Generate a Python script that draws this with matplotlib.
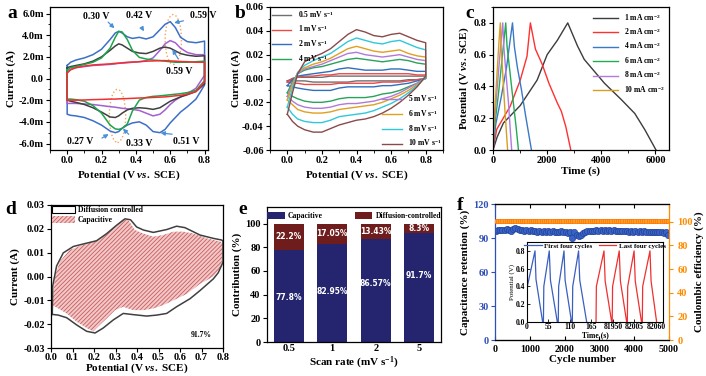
import numpy as np
import matplotlib
matplotlib.use('Agg')
import matplotlib.pyplot as plt
from matplotlib.patches import Ellipse, Patch
from matplotlib.ticker import AutoMinorLocator, FormatStrFormatter

plt.rcParams['font.family'] = ['Liberation Serif', 'DejaVu Serif']
plt.rcParams['font.weight'] = 'bold'
plt.rcParams['axes.labelweight'] = 'bold'
plt.rcParams['axes.unicode_minus'] = False
plt.rcParams['mathtext.fontset'] = 'custom'
plt.rcParams['mathtext.rm'] = 'Liberation Serif:bold'
plt.rcParams['mathtext.it'] = 'Liberation Serif:italic:bold'
plt.rcParams['mathtext.bf'] = 'Liberation Serif:bold'
plt.rcParams['hatch.linewidth'] = 0.6

# ---------------- data ----------------
# (a) CV curves, current in mA, upper / lower branch on the same potential grid
a_v = [0.0, 0.02, 0.05, 0.1, 0.15, 0.2, 0.25, 0.28, 0.3, 0.32, 0.35, 0.38,
       0.42, 0.46, 0.5, 0.54, 0.57, 0.6, 0.63, 0.66, 0.7, 0.75, 0.8]
a_blue_up = [1.2, 1.5, 1.7, 1.9, 2.2, 2.7, 3.6, 4.2, 4.35, 4.2, 3.85, 3.7,
             3.8, 3.65, 3.85, 4.5, 5.0, 5.25, 4.7, 3.8, 3.4, 3.3, 3.45]
a_blue_lo = [-3.3, -3.4, -3.45, -3.6, -3.9, -4.3, -4.85, -5.0, -4.9, -4.6, -4.3, -4.1,
             -4.0, -4.3, -4.9, -5.0, -4.7, -4.1, -3.6, -3.1, -2.6, -1.9, -0.6]
a_purple_up = [0.6, 0.85, 1.0, 1.1, 1.2, 1.25, 1.3, 1.35, 1.4, 1.42, 1.45, 1.5,
               1.55, 1.65, 1.9, 2.6, 3.2, 3.5, 3.3, 2.8, 2.4, 2.2, 2.2]
a_purple_lo = [-2.3, -2.3, -2.3, -2.35, -2.4, -2.5, -2.6, -2.65, -2.7, -2.75, -2.8, -2.85,
               -2.95, -3.2, -3.45, -3.3, -2.9, -2.4, -2.0, -1.7, -1.4, -0.9, 0.3]
a_black_up = [1.0, 1.1, 1.2, 1.35, 1.6, 2.0, 2.6, 3.0, 3.2, 3.1, 2.8, 2.5,
              2.35, 2.3, 2.5, 2.8, 2.9, 2.8, 2.55, 2.3, 2.15, 2.05, 2.1]
a_black_lo = [-2.0, -2.1, -2.2, -2.4, -2.7, -3.1, -3.55, -3.6, -3.45, -3.2, -2.9, -2.75,
              -2.7, -2.75, -2.85, -2.7, -2.4, -2.1, -1.9, -1.7, -1.5, -1.2, -0.5]
a_green_up = [0.8, 1.0, 1.1, 1.3, 1.5, 1.9, 2.8, 3.8, 4.35, 4.3, 3.6, 2.6,
              1.95, 1.8, 1.7, 1.65, 1.6, 1.55, 1.5, 1.5, 1.5, 1.55, 1.6]
a_green_lo = [-1.9, -1.9, -1.95, -2.1, -2.5, -3.2, -4.3, -4.65, -4.7, -4.6, -4.2, -3.0,
              -2.0, -1.75, -1.65, -1.6, -1.55, -1.5, -1.45, -1.4, -1.3, -1.1, -0.2]
a_red_up = [0.5, 0.8, 1.0, 1.15, 1.25, 1.3, 1.35, 1.4, 1.42, 1.45, 1.5, 1.52,
            1.55, 1.6, 1.62, 1.65, 1.65, 1.62, 1.6, 1.57, 1.55, 1.5, 1.5]
a_red_lo = [-2.0, -2.0, -2.0, -1.98, -1.95, -1.93, -1.9, -1.9, -1.88, -1.87, -1.85, -1.83,
            -1.8, -1.78, -1.75, -1.72, -1.7, -1.65, -1.6, -1.55, -1.45, -1.2, -0.3]

# (b) CV at different scan rates, current in A
b_v = [0.0, 0.03, 0.06, 0.1, 0.15, 0.2, 0.25, 0.3, 0.35, 0.4, 0.45, 0.5,
       0.55, 0.6, 0.65, 0.7, 0.75, 0.8]
b_labels = ['0.5 mV s$^{-1}$', '1 mV s$^{-1}$', '2 mV s$^{-1}$', '4 mV s$^{-1}$',
            '5 mV s$^{-1}$', '6 mV s$^{-1}$', '8 mV s$^{-1}$', '10 mV s$^{-1}$']
b_up = [
    [-0.002, 0.000, 0.001, 0.001, 0.001, 0.001, 0.002, 0.002, 0.002, 0.002, 0.002, 0.002, 0.002, 0.002, 0.002, 0.002, 0.002, 0.002],
    [-0.003, 0.000, 0.001, 0.002, 0.002, 0.003, 0.003, 0.004, 0.004, 0.004, 0.004, 0.004, 0.004, 0.004, 0.004, 0.004, 0.003, 0.003],
    [-0.006, -0.001, 0.002, 0.003, 0.004, 0.005, 0.006, 0.008, 0.009, 0.008, 0.007, 0.007, 0.007, 0.008, 0.008, 0.007, 0.006, 0.006],
    [-0.012, -0.003, 0.004, 0.007, 0.009, 0.010, 0.012, 0.014, 0.016, 0.017, 0.016, 0.015, 0.014, 0.015, 0.016, 0.015, 0.013, 0.012],
    [-0.015, -0.004, 0.004, 0.008, 0.010, 0.012, 0.015, 0.018, 0.021, 0.022, 0.020, 0.019, 0.018, 0.019, 0.020, 0.018, 0.016, 0.015],
    [-0.018, -0.005, 0.005, 0.009, 0.012, 0.014, 0.017, 0.021, 0.025, 0.027, 0.025, 0.023, 0.022, 0.023, 0.024, 0.021, 0.019, 0.018],
    [-0.024, -0.008, 0.005, 0.011, 0.015, 0.018, 0.021, 0.026, 0.031, 0.034, 0.032, 0.030, 0.029, 0.031, 0.032, 0.029, 0.026, 0.024],
    [-0.030, -0.012, 0.004, 0.014, 0.018, 0.021, 0.025, 0.031, 0.037, 0.041, 0.039, 0.036, 0.035, 0.037, 0.038, 0.035, 0.032, 0.030],
]
b_lo = [
    [-0.002, -0.002, -0.002, -0.002, -0.003, -0.003, -0.003, -0.003, -0.003, -0.002, -0.002, -0.002, -0.002, -0.002, -0.002, -0.001, -0.001, 0.000],
    [-0.003, -0.004, -0.004, -0.005, -0.005, -0.005, -0.005, -0.004, -0.004, -0.004, -0.004, -0.004, -0.003, -0.003, -0.003, -0.002, -0.001, 0.000],
    [-0.006, -0.007, -0.008, -0.009, -0.010, -0.010, -0.010, -0.008, -0.007, -0.007, -0.007, -0.007, -0.006, -0.006, -0.005, -0.004, -0.002, 0.000],
    [-0.012, -0.015, -0.017, -0.019, -0.020, -0.020, -0.019, -0.017, -0.016, -0.016, -0.016, -0.015, -0.013, -0.012, -0.010, -0.007, -0.004, 0.001],
    [-0.015, -0.019, -0.022, -0.024, -0.025, -0.025, -0.024, -0.022, -0.021, -0.021, -0.020, -0.019, -0.017, -0.015, -0.012, -0.008, -0.004, 0.001],
    [-0.018, -0.022, -0.026, -0.028, -0.029, -0.029, -0.028, -0.026, -0.025, -0.024, -0.023, -0.022, -0.020, -0.017, -0.014, -0.010, -0.005, 0.001],
    [-0.024, -0.030, -0.034, -0.036, -0.037, -0.037, -0.035, -0.032, -0.031, -0.030, -0.029, -0.027, -0.024, -0.021, -0.017, -0.012, -0.006, 0.001],
    [-0.030, -0.036, -0.040, -0.043, -0.045, -0.045, -0.042, -0.039, -0.037, -0.035, -0.034, -0.032, -0.029, -0.025, -0.020, -0.014, -0.007, 0.002],
]

# (c) GCD curves
c_labels = ['1 mA cm$^{-2}$', '2 mA cm$^{-2}$', '4 mA cm$^{-2}$',
            '6 mA cm$^{-2}$', '8 mA cm$^{-2}$', '10 mA cm$^{-2}$']
c_t = [
    [0, 150, 385, 1007, 1630, 2000, 2375, 2760, 3120, 3370, 4117, 4740, 5236, 5610, 6020],
    [0, 137, 634, 1007, 1256, 1380, 1567, 1816, 2065, 2375, 2525, 2687, 2873],
    [0, 100, 300, 500, 640, 720, 790, 900, 1050, 1200, 1300, 1420],
    [0, 60, 200, 350, 470, 520, 620, 750, 850, 940],
    [0, 40, 150, 280, 360, 400, 480, 570, 640, 690],
    [0, 30, 120, 220, 270, 300, 370, 440, 500, 540],
]
c_v = [
    [0, 0.08, 0.17, 0.28, 0.44, 0.6, 0.69, 0.8, 0.655, 0.57, 0.42, 0.317, 0.23, 0.127, 0],
    [0, 0.13, 0.275, 0.44, 0.59, 0.8, 0.635, 0.54, 0.42, 0.296, 0.243, 0.148, 0],
    [0, 0.16, 0.33, 0.52, 0.7, 0.8, 0.65, 0.52, 0.38, 0.22, 0.12, 0],
    [0, 0.15, 0.35, 0.6, 0.8, 0.65, 0.5, 0.3, 0.15, 0],
    [0, 0.15, 0.38, 0.65, 0.8, 0.65, 0.48, 0.3, 0.12, 0],
    [0, 0.15, 0.4, 0.68, 0.8, 0.65, 0.45, 0.25, 0.1, 0],
]

# (d) total (outline) and capacitive (hatched) CV at 5 mV/s
d_tot_v = [0.006, 0.008, 0.026, 0.057, 0.104, 0.166, 0.212, 0.259, 0.305, 0.344, 0.37, 0.398,
           0.43, 0.476, 0.538, 0.584, 0.623, 0.693, 0.755, 0.794, 0.8,
           0.8, 0.778, 0.755, 0.693, 0.647, 0.584, 0.538, 0.491, 0.445, 0.383, 0.336,
           0.29, 0.243, 0.205, 0.166, 0.119, 0.073, 0.034, 0.006]
d_tot_i = [-0.0159, -0.004, 0.0044, 0.0099, 0.0126, 0.014, 0.015, 0.018, 0.0215, 0.0242, 0.0238, 0.0208,
           0.0195, 0.0185, 0.0197, 0.0211, 0.0205, 0.0174, 0.016, 0.0153, 0.0148,
           0.006, 0.0016, -0.001, -0.0059, -0.0093, -0.0127, -0.0155, -0.0162, -0.0166, -0.016, -0.0155,
           -0.0182, -0.0216, -0.0237, -0.023, -0.0203, -0.0173, -0.0162, -0.0159]
d_cap_v = [0.006, 0.019, 0.042, 0.088, 0.15, 0.212, 0.26, 0.305, 0.336, 0.36, 0.39, 0.43,
           0.476, 0.522, 0.569, 0.616, 0.662, 0.724, 0.786, 0.798,
           0.794, 0.755, 0.693, 0.631, 0.569, 0.522, 0.476, 0.43, 0.383, 0.336, 0.298,
           0.26, 0.212, 0.197, 0.166, 0.119, 0.073, 0.034, 0.006]
d_cap_i = [-0.012, 0.0003, 0.0064, 0.0112, 0.0133, 0.015, 0.018, 0.0215, 0.024, 0.0236, 0.0195, 0.018,
           0.0167, 0.0174, 0.0188, 0.0188, 0.018, 0.016, 0.0147, 0.014,
           0.0044, 0.0, -0.0031, -0.0073, -0.01, -0.012, -0.0134, -0.0141, -0.0141, -0.0127, -0.0141,
           -0.0175, -0.0216, -0.023, -0.0216, -0.0189, -0.0155, -0.0134, -0.012]

# (e) contributions
e_rates = ['0.5', '1', '2', '5']
e_cap = [77.8, 82.95, 86.57, 91.7]
e_dif = [22.2, 17.05, 13.43, 8.3]
e_cap_txt = ['77.8%', '82.95%', '86.57%', '91.7%']
e_dif_txt = ['22.2%', '17.05%', '13.43%', '8.3%']

# (f) cycling
f_retention = [96.5, 97.2, 96.8, 97.5, 96.9, 97.8, 97.1, 96.4, 98.0, 98.9,
               97.6, 96.8, 97.3, 96.5, 97.0, 96.2, 96.8, 95.9, 96.5, 95.7,
               96.3, 95.5, 96.1, 95.4, 95.9, 95.2, 95.8, 95.0, 95.6, 95.3,
               95.8, 95.1, 95.5, 94.8, 95.2, 90.3, 95.6, 92.5, 91.8, 93.0,
               94.5, 95.6, 96.2, 95.8, 96.5, 96.1, 96.8, 96.3, 96.9, 96.4,
               97.0, 96.5, 96.8, 96.2, 96.7, 96.0, 96.5, 95.9, 96.4, 95.8,
               96.3, 95.7, 96.2, 95.6, 96.0, 95.5, 95.9, 95.4, 95.8, 95.3,
               95.7, 95.2, 95.6, 95.0, 95.4, 94.9, 95.2, 94.8, 95.0, 93.0]
f_ce = [100.6, 100.4, 100.7, 100.5, 100.6, 100.3, 100.5, 100.7, 100.4, 100.6,
        100.5, 100.6, 100.4, 100.7, 100.5, 100.6, 100.3, 100.5, 100.6, 100.4,
        100.7, 100.5, 100.6, 100.4, 100.5, 100.6, 100.3, 100.5, 100.7, 100.4,
        100.6, 100.5, 100.4, 100.6, 100.5, 100.7, 100.4, 100.6, 100.5, 100.3,
        100.5, 100.6, 100.4, 100.7, 100.5, 100.6, 100.4, 100.5, 100.6, 100.3,
        100.5, 100.7, 100.4, 100.6, 100.5, 100.6, 100.4, 100.5, 100.7, 100.4,
        100.6, 100.5, 100.3, 100.6, 100.5, 100.7, 100.4, 100.6, 100.5, 100.4,
        100.6, 100.5, 100.7, 100.4, 100.6, 100.5, 100.3, 100.6, 100.5, 100.4]
f_cycles = np.linspace(25, 4975, len(f_retention))

# inset: composite time axis (first cycles, then last cycles)
ins_first_t = [0, 0.8, 20.5, 23, 40, 42, 43, 57, 60, 77.6, 80, 81, 94.7, 97.5, 114,
               116, 117, 132, 135, 152.7]
ins_first_v = [0, 0.40, 0.8, 0.48, 0, 0, 0.40, 0.8, 0.47, 0, 0, 0.40, 0.8, 0.47, 0,
               0, 0.40, 0.8, 0.47, 0]
ins_last_t = [176.6, 177.5, 197, 200, 216.7, 218, 219, 236, 239, 255, 256.7, 257.7, 274, 277, 293,
              295, 296, 314.7, 317.5, 331.7]
ins_last_v = [0, 0.40, 0.8, 0.46, 0, 0, 0.40, 0.8, 0.46, 0, 0, 0.40, 0.8, 0.46, 0,
              0, 0.40, 0.8, 0.46, 0]
ins_tick_pos = [0, 55, 110, 165, 220, 275, 330]
ins_tick_lab = ['0', '55', '110', '165', '81950', '82005', '82060']

# ---------------- figure ----------------
W, H = 706, 376
fig = plt.figure(figsize=(W / 100, H / 100), dpi=100)


def box(l, t, r, b):
    return [l / W, 1 - b / H, (r - l) / W, (b - t) / H]


TS = 7.5   # tick labels
LS = 8     # axis labels
GS = 5.5   # legends


def style(ax, minor=True):
    ax.tick_params(direction='out', length=3, width=0.8, labelsize=TS, pad=1.5)
    ax.tick_params(which='minor', direction='out', length=1.8, width=0.6)
    for s in ax.spines.values():
        s.set_linewidth(0.9)
    if minor:
        ax.xaxis.set_minor_locator(AutoMinorLocator(2))
        ax.yaxis.set_minor_locator(AutoMinorLocator(2))


pot_label = 'Potential (V $\\mathit{vs.}$ SCE)'

# ---- a ----
ax = fig.add_axes(box(50, 7, 208, 150))
loop_v = a_v + a_v[::-1] + [a_v[0]]
for up, lo, col in [(a_blue_up, a_blue_lo, '#3d6fc8'), (a_purple_up, a_purple_lo, '#a45fd0'),
                    (a_black_up, a_black_lo, '#404040'), (a_green_up, a_green_lo, '#1fa34a'),
                    (a_red_up, a_red_lo, '#f03030')]:
    ax.plot(loop_v, up + lo[::-1] + [up[0]], color=col, lw=1.1)
ax.set_xlim(-0.1, 0.82)
ax.set_ylim(-6.6, 6.6)
ax.set_xticks([0, 0.2, 0.4, 0.6, 0.8])
ax.xaxis.set_major_formatter(FormatStrFormatter('%.1f'))
ax.set_yticks([-6, -4, -2, 0, 2, 4, 6])
ax.set_yticklabels(['-6.0m', '-4.0m', '-2.0m', '0.0', '2.0m', '4.0m', '6.0m'])
style(ax)
ax.set_xlabel(pot_label, fontsize=LS, labelpad=2)
ax.set_ylabel('Current (A)', fontsize=LS, labelpad=2)
acol = '#4a90d9'
for txt, tx, ty in [('0.30 V', 0.17, 5.75), ('0.42 V', 0.417, 5.85), ('0.59 V', 0.79, 5.85),
                    ('0.59 V', 0.655, 0.6), ('0.27 V', 0.074, -5.85), ('0.33 V', 0.417, -6.0),
                    ('0.51 V', 0.693, -5.85)]:
    ax.text(tx, ty, txt, fontsize=7, ha='center', va='center', clip_on=False)
for tail, head in [((0.227, 5.38), (0.287, 4.46)), ((0.427, 4.9), (0.455, 4.13)),
                   ((0.693, 5.38), (0.607, 5.08)), ((0.655, 1.6), (0.604, 2.9)),
                   ((0.189, -5.63), (0.255, -5.0)), ((0.37, -5.33), (0.313, -4.46)),
                   ((0.627, -5.17), (0.528, -5.0))]:
    ax.annotate('', xy=head, xytext=tail,
                arrowprops=dict(arrowstyle='-|>', color=acol, lw=0.9, mutation_scale=6))
ax.add_patch(Ellipse((0.618, 3.6), 0.095, 4.6, fill=False, ls=':', lw=1, ec='#f5a35c'))
ax.add_patch(Ellipse((0.293, -3.45), 0.095, 4.9, fill=False, ls=':', lw=1, ec='#f5a35c'))

# ---- b ----
ax = fig.add_axes(box(270, 7, 443, 150))
b_cols = ['#707070', '#f04848', '#2f6fc0', '#27a35a', '#b07ad8', '#e0a020', '#30c8d8', '#8b4a4a']
loop_b = b_v + b_v[::-1] + [b_v[0]]
lines = []
for up, lo, col, lab in zip(b_up, b_lo, b_cols, b_labels):
    ln, = ax.plot(loop_b, up + lo[::-1] + [up[0]], color=col, lw=1.0, label=lab)
    lines.append(ln)
ax.set_xlim(-0.1, 0.9)
ax.set_ylim(-0.06, 0.06)
ax.set_xticks([0, 0.2, 0.4, 0.6, 0.8])
ax.xaxis.set_major_formatter(FormatStrFormatter('%.1f'))
ax.set_yticks([-0.06, -0.04, -0.02, 0, 0.02, 0.04, 0.06])
ax.yaxis.set_major_formatter(FormatStrFormatter('%.2f'))
style(ax)
ax.set_xlabel(pot_label, fontsize=LS, labelpad=2)
ax.set_ylabel('Current (A)', fontsize=LS, labelpad=1)
leg1 = ax.legend(handles=lines[:4], loc='upper left', fontsize=GS, frameon=False,
                 handlelength=2.6, borderaxespad=0.1, labelspacing=0.5, borderpad=0.1)
ax.add_artist(leg1)
ax.legend(handles=lines[4:], loc='lower right', fontsize=GS, frameon=False,
          handlelength=2.6, borderaxespad=0.1, labelspacing=0.5, borderpad=0.1)

# ---- c ----
ax = fig.add_axes(box(493, 7, 669, 150))
c_cols = ['#3c3c3c', '#ff3030', '#3a78c8', '#22aa55', '#b07ae0', '#d4a020']
for t, v, col, lab in zip(c_t, c_v, c_cols, c_labels):
    ax.plot(t, v, color=col, lw=1.0, label=lab)
ax.set_xlim(0, 6500)
ax.set_ylim(0, 0.9)
ax.set_xticks([0, 2000, 4000, 6000])
ax.set_yticks([0, 0.2, 0.4, 0.6, 0.8])
ax.yaxis.set_major_formatter(FormatStrFormatter('%.1f'))
style(ax)
ax.set_xlabel('Time (s)', fontsize=LS, labelpad=1)
ax.set_ylabel(pot_label, fontsize=LS, labelpad=2)
ax.legend(loc='upper right', fontsize=GS, frameon=False, handlelength=3.2,
          borderaxespad=0.2, labelspacing=0.45)

# ---- d ----
ax = fig.add_axes(box(51, 205, 223, 348))
ax.fill(d_cap_v, d_cap_i, facecolor='#efc9c9', edgecolor='#d05a5a', hatch='////////', lw=0)
ax.plot(d_tot_v + [d_tot_v[0]], d_tot_i + [d_tot_i[0]], color='#404040', lw=1.1)
ax.set_xlim(0, 0.8)
ax.set_ylim(-0.03, 0.03)
ax.set_xticks(np.arange(0, 0.81, 0.1))
ax.xaxis.set_major_formatter(FormatStrFormatter('%.1f'))
ax.set_yticks([-0.03, -0.02, -0.01, 0, 0.01, 0.02, 0.03])
ax.yaxis.set_major_formatter(FormatStrFormatter('%.2f'))
style(ax, minor=False)
ax.tick_params(axis='x', pad=0.5)
ax.set_xlabel(pot_label, fontsize=LS, labelpad=0)
ax.set_ylabel('Current (A)', fontsize=LS, labelpad=2)
ax.text(0.70, -0.0244, '91.7%', fontsize=5.5, ha='center', va='center')
ax.legend(handles=[Patch(facecolor='white', edgecolor='black', lw=0.8, label='Diffusion controlled'),
                   Patch(facecolor='#efc9c9', edgecolor='#d05a5a', hatch='////////', lw=0,
                         label='Capacitive')],
          loc='upper left', fontsize=GS, frameon=False, handlelength=3.0, handleheight=1.1,
          borderaxespad=0.05, borderpad=0.1, labelspacing=0.2, handletextpad=0.4)

# ---- e ----
ax = fig.add_axes(box(267, 207, 441, 342))
xe = np.arange(len(e_rates))
ax.bar(xe, e_cap, width=0.7, color='#25256f', label='Capacitive')
ax.bar(xe, e_dif, width=0.7, bottom=e_cap, color='#6e1c1c', label='Diffusion-controlled')
cap_txt_y = [37.5, 43, 49.5, 56.5]
for i in range(len(e_rates)):
    ax.text(xe[i], cap_txt_y[i], e_cap_txt[i], color='white', fontsize=5.5, ha='center',
            va='center', family='DejaVu Sans', weight='bold')
    ax.text(xe[i], e_cap[i] + e_dif[i] / 2, e_dif_txt[i], color='white', fontsize=5.5,
            ha='center', va='center', family='DejaVu Sans', weight='bold')
ax.set_xlim(-0.5, 3.5)
ax.set_ylim(0, 114)
ax.set_xticks(xe)
ax.set_xticklabels(e_rates)
ax.set_yticks([0, 20, 40, 60, 80, 100])
style(ax, minor=False)
ax.tick_params(axis='x', length=0)
ax.set_xlabel('Scan rate (mV s$^{-1}$)', fontsize=LS, labelpad=1)
ax.set_ylabel('Contribution (%)', fontsize=LS, labelpad=2)
ax.legend(loc='upper center', ncol=2, fontsize=GS, frameon=False, handlelength=2.3,
          handleheight=1.0, columnspacing=4.2, borderaxespad=0.25, handletextpad=0.4)

# ---- f ----
ax = fig.add_axes(box(495, 204, 669, 340))
ax.plot(f_cycles, f_retention, 'o', ms=4.5, mfc='#3a63c8', mec='#22449a', mew=0.5)
ax.set_xlim(0, 5000)
ax.set_ylim(0, 120)
ax.set_xticks([0, 1000, 2000, 3000, 4000, 5000])
ax.set_yticks([0, 30, 60, 90, 120])
style(ax, minor=False)
ax.tick_params(axis='y', colors='#2f4fb8', labelcolor='#2f4fb8')
ax.tick_params(axis='x', top=True, direction='in', labelsize=7.2, pad=3.5)
ax.spines['left'].set_color('#2f4fb8')
ax.spines['right'].set_visible(False)
ax.set_xlabel('Cycle number', fontsize=LS, labelpad=1)
ax.set_ylabel('Capacitance retention (%)', fontsize=LS, labelpad=2)
ax2 = ax.twinx()
ax2.plot(f_cycles, f_ce, '-s', color='#ff2020', lw=0.8, ms=2.8, mfc='#ffa020', mec='#ff6a00', mew=0.4)
ax2.set_ylim(0, 115)
ax2.set_yticks([0, 20, 40, 60, 80, 100])
ax2.tick_params(direction='out', length=3, width=0.8, labelsize=TS, pad=3,
                colors='#ff8c00', labelcolor='#ff8c00')
ax2.spines['right'].set_color('#ff8c00')
ax2.spines['right'].set_linewidth(0.9)
ax2.spines['left'].set_visible(False)
ax2.set_ylabel('Coulombic efficiency (%)', fontsize=LS, labelpad=1)

ins = fig.add_axes(box(527, 242, 663, 322))
ins.plot(ins_first_t, ins_first_v, color='#3a5fc0', lw=0.9, label='First four cycles')
ins.plot(ins_last_t, ins_last_v, color='#f03030', lw=0.9, label='Last four cycles')
ins.set_xlim(0, 348)
ins.set_ylim(0, 0.9)
ins.set_xticks(ins_tick_pos)
ins.set_xticklabels(ins_tick_lab)
ins.set_yticks([0, 0.2, 0.4, 0.6, 0.8])
ins.yaxis.set_major_formatter(FormatStrFormatter('%.1f'))
ins.tick_params(direction='in', length=2, width=0.6, labelsize=5.5, pad=1)
ins.set_xlabel('Time (s)', fontsize=5.5, labelpad=0)
ins.set_ylabel('Potential (V)', fontsize=5, labelpad=1, fontweight='normal')
ins.legend(loc='upper center', ncol=2, fontsize=5, frameon=False, handlelength=2.5,
           columnspacing=1.0, borderaxespad=0.0, borderpad=0.1, handletextpad=0.3)

# panel letters
for lab, x, y in [('a', 12, 13), ('b', 240, 13), ('c', 470, 13),
                  ('d', 11, 210), ('e', 243, 210), ('f', 460, 205)]:
    fig.text(x / W, 1 - y / H, lab, fontsize=14, fontweight='bold', ha='center', va='center')

fig.savefig('out.png', dpi=100)
